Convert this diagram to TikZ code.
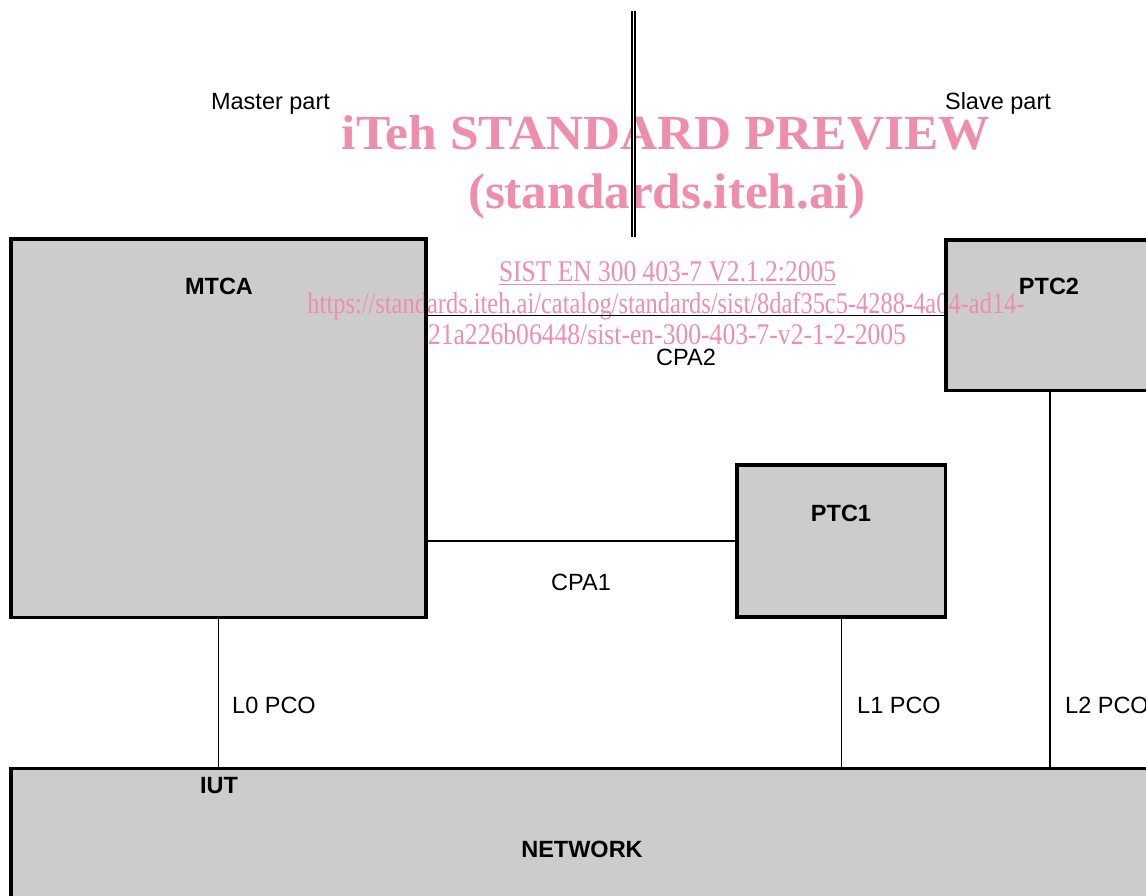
\documentclass[tikz,border=0pt]{standalone}
\usepackage{fontspec}
\setmainfont{Liberation Sans}
\newfontfamily\wmfont{Liberation Serif}
\usepackage{graphicx}
\definecolor{boxgray}{RGB}{204,204,204}
\definecolor{wmpink}{RGB}{239,142,172}
\pgfdeclarelayer{bg}
\pgfdeclarelayer{wm}
\pgfsetlayers{bg,wm,main}
\begin{document}
\begin{tikzpicture}[x=1pt,y=-1pt,
  box/.style={draw=black,line width=3.5pt,rectangle,inner sep=0pt},
  conn/.style={draw=black,line width=1.5pt},
  lbl/.style={inner sep=0pt,font=\fontsize{23.5}{28}\selectfont},
  blbl/.style={inner sep=0pt,font=\fontsize{23.5}{28}\selectfont\bfseries},
  wmtext/.style={inner sep=0pt,text=wmpink,anchor=base}]

\useasboundingbox (0,0) rectangle (1146,896);

% boxes
\node[box,minimum width=415pt,minimum height=378.5pt] (mtca) at (218.5,428.25) {};
\node[box,minimum width=208pt,minimum height=150.5pt] (ptc2) at (1050,315.25) {};
\node[box,minimum width=208.5pt,minimum height=152pt] (ptc1) at (841.25,541) {};
\node[box,minimum width=1159pt,minimum height=161.5pt] (network) at (590.5,849.25) {};

\begin{pgfonlayer}{bg}
  \foreach \n in {mtca,ptc1,ptc2,network}
    \fill[boxgray] (\n.north west) rectangle (\n.south east);
\end{pgfonlayer}

% watermark
\begin{pgfonlayer}{wm}
  \node[wmtext] (wm1) at (666,150)
    {\resizebox{648pt}{\height}{\wmfont\fontsize{49}{49}\selectfont\bfseries iTeh STANDARD PREVIEW}};
  \node[wmtext] (wm2) at (667,209)
    {\resizebox{398pt}{\height}{\wmfont\fontsize{50}{50}\selectfont\bfseries (standards.iteh.ai)}};
  \node[wmtext] (wm3) at (667.5,281.5)
    {\resizebox{337pt}{\height}{\wmfont\fontsize{30}{30}\selectfont SIST EN 300 403-7 V2.1.2:2005}};
  \draw[wmpink,line width=1.4pt] ([yshift=-3pt]wm3.base west) -- ([yshift=-3pt]wm3.base east);
  \node[wmtext] (wm4) at (666,313)
    {\resizebox{717pt}{\height}{\wmfont\fontsize{30}{30}\selectfont https://standards.iteh.ai/catalog/standards/sist/8daf35c5-4288-4a04-ad14-}};
  \node[wmtext] (wm5) at (667,344)
    {\resizebox{478pt}{\height}{\wmfont\fontsize{30}{30}\selectfont 21a226b06448/sist-en-300-403-7-v2-1-2-2005}};
\end{pgfonlayer}

% separator
\coordinate (dtop) at (633.5,11);
\coordinate (dbot) at (633.5,237);
\draw[line width=2.2pt,double=white,double distance=1pt] (dtop) -- (dbot);

% connectors
\draw[conn] (ptc2.west) -- (ptc2.west -| mtca.east);
\draw[conn] (ptc1.west) -- (ptc1.west -| mtca.east);
\draw[conn] (mtca.south) -- (mtca.south |- network.north);
\draw[conn] (ptc1.south) -- (ptc1.south |- network.north);
\draw[conn] (ptc2.south) -- (ptc2.south |- network.north);

% labels
\node[lbl,anchor=base] (master) at (270.5,110) {Master part};
\node[lbl,anchor=base] (slave) at (998,110) {Slave part};
\node[blbl] (mtcal) at (219,286) {MTCA};
\node[blbl] (ptc2l) at (1049,286) {PTC2};
\node[blbl] (ptc1l) at (841,513) {PTC1};
\node[lbl] (cpa2) at (686,357) {CPA2};
\node[lbl] (cpa1) at (581,582) {CPA1};
\node[lbl,anchor=west] (l0) at (232,705) {L0 PCO};
\node[lbl,anchor=west] (l1) at (857,705) {L1 PCO};
\node[lbl,anchor=west] (l2) at (1065,705) {L2 PCO};
\node[blbl] (iut) at (219,786) {IUT};
\node[blbl] (netl) at (582,849) {NETWORK};
\end{tikzpicture}
\end{document}
